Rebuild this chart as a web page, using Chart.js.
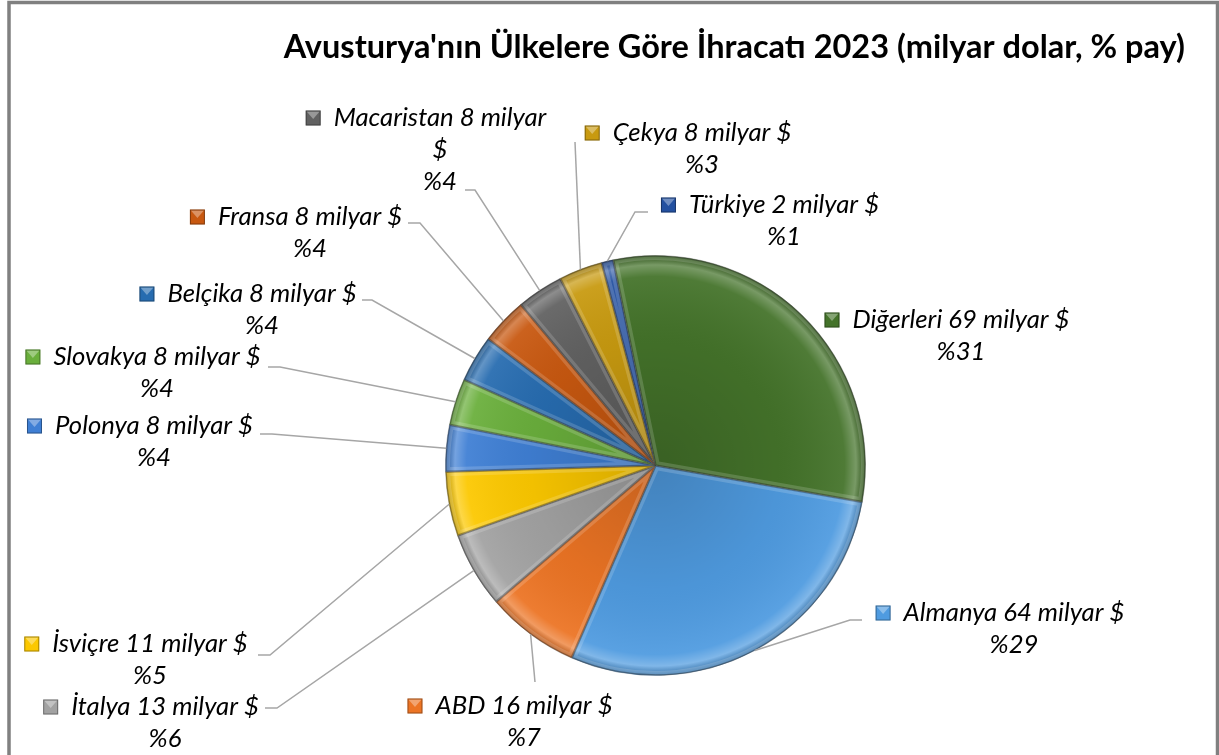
<!DOCTYPE html>
<html lang="tr">
<head>
<meta charset="utf-8">
<title>Avusturya'nın Ülkelere Göre İhracatı 2023</title>
<script src="https://cdn.jsdelivr.net/npm/chart.js@4/dist/chart.umd.min.js"></script>
<style>
    html, body { margin: 0; padding: 0; background: #fff; }
    #wrap { width: 1219px; height: 755px; }
</style>
</head>
<body>
<div id="wrap"><canvas id="exportPie" width="1219" height="755"></canvas></div>
<script>
// data, clockwise from the first slice (Almanya)
const countries = ['Almanya', 'ABD', 'İtalya', 'İsviçre', 'Polonya', 'Slovakya', 'Belçika', 'Fransa', 'Macaristan', 'Çekya', 'Türkiye', 'Diğerleri'];
const exportsBn = [64, 16, 13, 11, 8, 8, 8, 8, 8, 7.5, 2, 69];
const chartTitle = "Avusturya'nın Ülkelere Göre İhracatı 2023 (milyar dolar, % pay)";

const sliceColors = ['#4f9be0', '#ec7424', '#a2a2a2', '#fcc800', '#3f7fd4', '#6aaf3c',
                     '#276cb0', '#c85810', '#616161', '#c89a10', '#2350a0', '#44732a'];

// label placement (text centre, first line y, leader line start)
const labelLayout = [
    { cx: 1014, y: 613, leader: [[862, 620], [850, 620]] },
    { cx: 524, y: 706, leader: [[535, 682]] },
    { cx: 165, y: 707, leader: [[265, 708], [277, 708]] },
    { cx: 150, y: 644, leader: [[258, 655], [270, 655]] },
    { cx: 154, y: 426, leader: [[260, 434], [272, 434]] },
    { cx: 157, y: 357, leader: [[268, 367], [280, 367]] },
    { cx: 262, y: 294, leader: [[362, 300], [372, 300]] },
    { cx: 310, y: 217, leader: [[408, 223], [420, 223]] },
    { cx: 440, y: 118, leader: [[465, 190], [475, 190]], wrap: true },
    { cx: 702, y: 133, leader: [[575, 142]] },
    { cx: 784, y: 205, leader: [[648, 212], [635, 212]] },
    { cx: 961, y: 320, leader: null }
];

const labelFamily = 'Lato, "Open Sans", sans-serif';
const lineGap = 32;

function fitFont(ctx, style, text, target, guess) {
    ctx.font = `${style} ${guess}px ${labelFamily}`;
    const w = ctx.measureText(text).width;
    return Math.round(guess * target / w * 10) / 10;
}

const bevelPlugin = {
    id: 'bevel',
    afterDatasetsDraw(chart) {
        const ctx = chart.ctx;
        chart.getDatasetMeta(0).data.forEach(arc => {
            const p = arc.getProps(['x', 'y', 'startAngle', 'endAngle', 'outerRadius'], true);
            ctx.save();
            ctx.beginPath();
            ctx.moveTo(p.x, p.y);
            ctx.arc(p.x, p.y, p.outerRadius, p.startAngle, p.endAngle);
            ctx.closePath();
            ctx.clip();

            const g = ctx.createRadialGradient(p.x, p.y, 0, p.x, p.y, p.outerRadius);
            g.addColorStop(0, 'rgba(0,0,0,0.16)');
            g.addColorStop(0.6, 'rgba(0,0,0,0.04)');
            g.addColorStop(0.9, 'rgba(255,255,255,0.06)');
            g.addColorStop(0.955, 'rgba(255,255,255,0.28)');
            g.addColorStop(1, 'rgba(0,0,0,0.22)');
            ctx.fillStyle = g;
            ctx.fill();

            ctx.lineJoin = 'round';
            ctx.lineWidth = 9;
            ctx.strokeStyle = 'rgba(255,255,255,0.16)';
            ctx.stroke();
            ctx.lineWidth = 2.5;
            ctx.strokeStyle = 'rgba(0,0,0,0.28)';
            ctx.stroke();
            ctx.restore();
        });
    }
};

function drawMarker(ctx, x, y, color) {
    const s = 15;
    ctx.save();
    ctx.fillStyle = color;
    ctx.fillRect(x, y - s / 2, s, s);
    ctx.beginPath();
    ctx.moveTo(x + 1, y - s / 2 + 1);
    ctx.lineTo(x + s - 1, y - s / 2 + 1);
    ctx.lineTo(x + s / 2, y + 1);
    ctx.closePath();
    ctx.fillStyle = 'rgba(255,255,255,0.35)';
    ctx.fill();
    ctx.strokeStyle = 'rgba(0,0,0,0.35)';
    ctx.lineWidth = 1;
    ctx.strokeRect(x + 0.5, y - s / 2 + 0.5, s - 1, s - 1);
    ctx.restore();
}

const labelsPlugin = {
    id: 'pieLabels',
    afterDraw(chart) {
        const ctx = chart.ctx;
        const values = chart.data.datasets[0].data;
        const total = values.reduce((a, b) => a + b, 0);
        const arcs = chart.getDatasetMeta(0).data;

        // border of the chart box
        ctx.save();
        ctx.strokeStyle = '#808080';
        ctx.lineWidth = 3.5;
        ctx.strokeRect(9, 2.5, 1208.5, 800);
        ctx.restore();

        // title
        ctx.save();
        const titleSize = fitFont(ctx, 'bold', chartTitle, 902, 26);
        ctx.font = `bold ${titleSize}px ${labelFamily}`;
        ctx.fillStyle = '#000';
        ctx.textAlign = 'right';
        ctx.textBaseline = 'middle';
        ctx.fillText(chartTitle, 1185, 48);
        ctx.restore();

        const size = fitFont(ctx, 'italic', 'Diğerleri 69 milyar $', 217, 21);

        countries.forEach((name, i) => {
            const lay = labelLayout[i];
            const v = values[i];
            const pct = Math.round(v / total * 100);
            const arc = arcs[i].getProps(['x', 'y', 'startAngle', 'endAngle', 'outerRadius'], true);

            // leader line to the slice edge
            if (lay.leader) {
                const mid = (arc.startAngle + arc.endAngle) / 2;
                const ex = arc.x + Math.cos(mid) * arc.outerRadius;
                const ey = arc.y + Math.sin(mid) * arc.outerRadius;
                ctx.save();
                ctx.strokeStyle = '#a6a6a6';
                ctx.lineWidth = 1.5;
                ctx.beginPath();
                ctx.moveTo(lay.leader[0][0], lay.leader[0][1]);
                lay.leader.slice(1).forEach(pt => ctx.lineTo(pt[0], pt[1]));
                ctx.lineTo(ex, ey);
                ctx.stroke();
                ctx.restore();
            }

            ctx.save();
            ctx.font = `italic ${size}px ${labelFamily}`;
            ctx.fillStyle = '#000';
            ctx.textBaseline = 'middle';
            const first = `${name} ${Math.round(v)} milyar $`;
            const lines = [];
            if (lay.wrap) {
                const words = first.split(' ');
                lines.push(words.slice(0, -1).join(' '));
                lines.push(words[words.length - 1]);
            } else {
                lines.push(first);
            }
            lines.push(`%${pct}`);

            const w = ctx.measureText(lines[0]).width;
            const left = lay.cx - w / 2;
            drawMarker(ctx, left - 28, lay.y, sliceColors[i]);
            ctx.textAlign = 'left';
            ctx.fillText(lines[0], left, lay.y);
            ctx.textAlign = 'center';
            lines.slice(1).forEach((t, k) => {
                ctx.fillText(t, lay.cx, lay.y + lineGap * (k + 1));
            });
            ctx.restore();
        });
    }
};

new Chart(document.getElementById('exportPie'), {
    type: 'pie',
    data: {
        labels: countries,
        datasets: [{
            data: exportsBn,
            backgroundColor: sliceColors,
            borderColor: 'rgba(60,60,60,0.35)',
            borderWidth: 1
        }]
    },
    options: {
        responsive: false,
        animation: false,
        rotation: 100,
        layout: {
            padding: { left: 445, right: 353, top: 255, bottom: 79 }
        },
        plugins: {
            legend: { display: false },
            tooltip: { enabled: false },
            title: { display: false }
        }
    },
    plugins: [bevelPlugin, labelsPlugin]
});
</script>
</body>
</html>
